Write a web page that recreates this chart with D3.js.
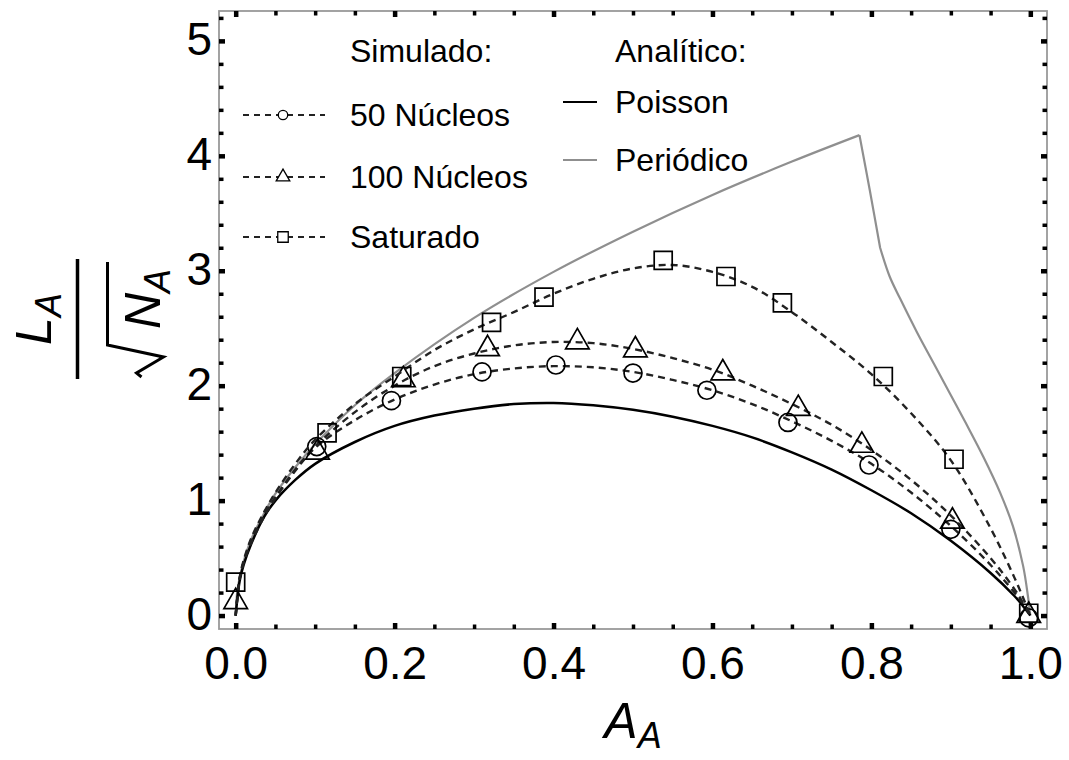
<!DOCTYPE html>
<html>
<head>
<meta charset="utf-8">
<script src="https://cdn.jsdelivr.net/npm/d3@7"></script>
<style>
  body { margin: 0; background: #fff; }
  text { font-family: "Liberation Sans", Arial, sans-serif; fill: #000; }
</style>
</head>
<body>
<script>
let size = {width: 1069, height: 760};
let frame = {left: 219, right: 1047, top: 11, bottom: 629};

// simulated points
let circX = [0.102, 0.196, 0.31, 0.403, 0.50, 0.593, 0.695, 0.797, 0.90, 0.998];
let circY = [1.47, 1.87, 2.12, 2.18, 2.11, 1.96, 1.68, 1.31, 0.75, -0.02];
let triX = [0.0, 0.103, 0.211, 0.317, 0.43, 0.503, 0.613, 0.708, 0.788, 0.902, 0.998];
let triY = [0.12, 1.42, 2.05, 2.32, 2.38, 2.31, 2.11, 1.80, 1.48, 0.82, 0.0];
let sqX = [0.0, 0.115, 0.209, 0.322, 0.388, 0.538, 0.617, 0.688, 0.815, 0.904, 0.998];
let sqY = [0.29, 1.59, 2.08, 2.55, 2.77, 3.09, 2.95, 2.72, 2.08, 1.36, 0.02];

// dashed fit curves and Poisson curve, sampled at fitX
let fitX = [0, 0.005, 0.01, 0.02, 0.035, 0.05, 0.075, 0.1, 0.15, 0.2, 0.25, 0.3, 0.35, 0.4,
    0.45, 0.5, 0.55, 0.6, 0.65, 0.7, 0.75, 0.8, 0.85, 0.9, 0.95, 0.98, 0.99, 1.0];
let fit50 = [0, 0.32, 0.46, 0.64, 0.85, 1.02, 1.26, 1.46, 1.70, 1.88, 2.01, 2.10, 2.15, 2.17,
    2.16, 2.12, 2.05, 1.96, 1.84, 1.69, 1.52, 1.32, 1.07, 0.78, 0.44, 0.20, 0.11, 0];
let fit100 = [0, 0.32, 0.46, 0.65, 0.86, 1.03, 1.27, 1.47, 1.77, 2.00, 2.17, 2.28, 2.35, 2.38,
    2.37, 2.32, 2.24, 2.14, 2.00, 1.84, 1.66, 1.44, 1.18, 0.87, 0.50, 0.23, 0.12, 0];
let fitSat = [0, 0.33, 0.48, 0.68, 0.89, 1.07, 1.32, 1.53, 1.84, 2.08, 2.31, 2.49, 2.64, 2.80,
    2.93, 3.02, 3.05, 2.99, 2.86, 2.64, 2.38, 2.10, 1.76, 1.35, 0.76, 0.33, 0.17, 0];
let poisson = [0, 0.30, 0.44, 0.63, 0.85, 1.00, 1.18, 1.32, 1.51, 1.65, 1.74, 1.80, 1.84, 1.85,
    1.83, 1.79, 1.73, 1.65, 1.55, 1.42, 1.27, 1.09, 0.89, 0.65, 0.37, 0.17, 0.09, 0];

// periodic curve: rising branch, steep drop, tail
let perX = [0, 0.002, 0.005, 0.01, 0.02, 0.035, 0.05, 0.075, 0.1, 0.15, 0.2, 0.3, 0.4, 0.5, 0.6, 0.7,
    0.785, 0.798, 0.811, 0.823, 0.836, 0.857, 0.878, 0.899, 0.92, 0.941, 0.962, 0.978, 0.991, 0.997, 1.0];
let perY = [0, 0.21, 0.33, 0.47, 0.67, 0.88, 1.06, 1.29, 1.49, 1.83, 2.11, 2.59, 2.99, 3.34, 3.66, 3.95,
    4.18, 3.70, 3.20, 2.95, 2.76, 2.47, 2.20, 1.93, 1.66, 1.38, 1.07, 0.78, 0.43, 0.17, 0];
let perBreaks = [16, 18];

let xMajor = [0, 0.2, 0.4, 0.6, 0.8, 1.0];
let yMajor = [0, 1, 2, 3, 4, 5];
let xMinor = d3.range(0.05, 1.0, 0.05).filter(v => Math.abs(v * 5 - Math.round(v * 5)) > 1e-6);
let yMinor = d3.range(0.2, 5.3, 0.2).filter(v => Math.abs(v - Math.round(v)) > 1e-6);

let svg = d3.select("body").append("svg")
    .attr("width", size.width)
    .attr("height", size.height);

let x = d3.scaleLinear().domain([-0.021, 1.021]).range([frame.left, frame.right]);
let y = d3.scaleLinear().domain([-0.117, 5.26]).range([frame.bottom, frame.top]);

let line = d3.line()
    .x(d => x(d[0]))
    .y(d => y(d[1]))
    .curve(d3.curveCatmullRom.alpha(0.5));

// frame
svg.append("rect")
    .attr("x", frame.left)
    .attr("y", frame.top)
    .attr("width", frame.right - frame.left)
    .attr("height", frame.bottom - frame.top)
    .attr("fill", "none")
    .attr("stroke", "#999")
    .attr("stroke-width", 1.8);

// ticks on all four sides, pointing inward
function ticks(axis, transform, len, width) {
    let g = svg.append("g")
        .attr("transform", transform)
        .call(axis.tickSize(-len));
    g.select(".domain").remove();
    g.selectAll(".tick line").attr("stroke", "#000").attr("stroke-width", width);
    return g;
}

let bottom = ticks(d3.axisBottom(x).tickValues(xMajor).tickFormat(d3.format(".1f")),
    `translate(0,${frame.bottom})`, 6, 4.5);
bottom.selectAll("text")
    .attr("y", 50)
    .attr("dy", null)
    .attr("font-size", 46)
    .attr("font-family", "Liberation Sans, Arial, sans-serif");
ticks(d3.axisBottom(x).tickValues(xMinor).tickFormat(""), `translate(0,${frame.bottom})`, 4.5, 3.5);
ticks(d3.axisTop(x).tickValues(xMajor).tickFormat(""), `translate(0,${frame.top})`, 6, 4.5);
ticks(d3.axisTop(x).tickValues(xMinor).tickFormat(""), `translate(0,${frame.top})`, 4.5, 3.5);

let left = ticks(d3.axisLeft(y).tickValues(yMajor).tickFormat(d3.format("d")),
    `translate(${frame.left},0)`, 6, 4.5);
left.selectAll("text")
    .attr("x", -7)
    .attr("dy", "0.3em")
    .attr("font-size", 46)
    .attr("font-family", "Liberation Sans, Arial, sans-serif");
ticks(d3.axisLeft(y).tickValues(yMinor).tickFormat(""), `translate(${frame.left},0)`, 4.5, 3.5);
ticks(d3.axisRight(y).tickValues(yMajor).tickFormat(""), `translate(${frame.right},0)`, 6, 4.5);
ticks(d3.axisRight(y).tickValues(yMinor).tickFormat(""), `translate(${frame.right},0)`, 4.5, 3.5);

// analytic curves
let perPts = perX.map((v, i) => [v, perY[i]]);
let perPath = [perPts.slice(0, perBreaks[0] + 1),
    perPts.slice(perBreaks[0], perBreaks[1] + 1),
    perPts.slice(perBreaks[1])].map(p => line(p)).join("");

let plot = svg.append("g");

plot.append("path")
    .attr("d", perPath)
    .attr("fill", "none")
    .attr("stroke", "#8f8f8f")
    .attr("stroke-width", 2.2);

plot.append("path")
    .attr("d", line(fitX.map((v, i) => [v, poisson[i]])))
    .attr("fill", "none")
    .attr("stroke", "#000")
    .attr("stroke-width", 2.5);

// simulated series
let series = [
    {name: "50 Núcleos", fit: fit50, xs: circX, ys: circY, type: d3.symbolCircle, size: 254, lsize: 70},
    {name: "100 Núcleos", fit: fit100, xs: triX, ys: triY, type: d3.symbolTriangle, size: 240, lsize: 80},
    {name: "Saturado", fit: fitSat, xs: sqX, ys: sqY, type: d3.symbolSquare, size: 324, lsize: 110}
];

series.forEach(s => {
    plot.append("path")
        .attr("d", line(fitX.map((v, i) => [v, s.fit[i]])))
        .attr("fill", "none")
        .attr("stroke", "#222")
        .attr("stroke-width", 2.4)
        .attr("stroke-dasharray", "7,5");

    plot.append("g")
        .selectAll("path")
        .data(s.xs.map((v, i) => [v, s.ys[i]]))
        .join("path")
        .attr("transform", d => `translate(${x(d[0])},${y(d[1])})`)
        .attr("d", d3.symbol().type(s.type).size(s.size))
        .attr("fill", "none")
        .attr("stroke", "#000")
        .attr("stroke-width", 1.7);
});

// legend
let legend = svg.append("g").attr("font-size", 32);

legend.append("text").attr("x", 350).attr("y", 62).text("Simulado:");
legend.append("text").attr("x", 615).attr("y", 62).text("Analítico:");

let legendRows = [126, 188, 248];
series.forEach((s, i) => {
    let ly = legendRows[i] - 11;
    legend.append("line")
        .attr("x1", 243).attr("x2", 325)
        .attr("y1", ly).attr("y2", ly)
        .attr("stroke", "#222")
        .attr("stroke-width", 2)
        .attr("stroke-dasharray", "6,5");
    legend.append("path")
        .attr("transform", `translate(283,${ly})`)
        .attr("d", d3.symbol().type(s.type).size(s.lsize))
        .attr("fill", "#fff")
        .attr("stroke", "#000")
        .attr("stroke-width", 1.3);
    legend.append("text").attr("x", 350).attr("y", legendRows[i]).text(s.name);
});

let analytic = [{name: "Poisson", color: "#000", y: 113}, {name: "Periódico", color: "#8f8f8f", y: 171}];
analytic.forEach(a => {
    legend.append("line")
        .attr("x1", 563).attr("x2", 597)
        .attr("y1", a.y - 11).attr("y2", a.y - 11)
        .attr("stroke", a.color)
        .attr("stroke-width", 2.2);
    legend.append("text").attr("x", 615).attr("y", a.y).text(a.name);
});

// axis labels
let xl = svg.append("text")
    .attr("x", (frame.left + frame.right) / 2)
    .attr("y", 738)
    .attr("text-anchor", "middle")
    .attr("font-size", 50)
    .attr("font-style", "italic");
xl.append("tspan").text("A");
xl.append("tspan").attr("font-size", 36).attr("dy", 10).text("A");

let yl = svg.append("g").attr("transform", "translate(77.5,319) rotate(-90)");
yl.append("line")
    .attr("x1", -60).attr("x2", 60)
    .attr("stroke", "#000")
    .attr("stroke-width", 3.5);
let num = yl.append("text")
    .attr("y", -27)
    .attr("text-anchor", "middle")
    .attr("font-size", 50)
    .attr("font-style", "italic");
num.append("tspan").text("L");
num.append("tspan").attr("font-size", 36).attr("dy", 10).text("A");

yl.append("path")
    .attr("d", "M-58,64 L-54,59 L-38,86 L-26,30 L57,30")
    .attr("fill", "none")
    .attr("stroke", "#000")
    .attr("stroke-width", 3)
    .attr("stroke-linejoin", "miter");
let den = yl.append("text")
    .attr("x", -10)
    .attr("y", 82)
    .attr("font-size", 50)
    .attr("font-style", "italic");
den.append("tspan").text("N");
den.append("tspan").attr("font-size", 36).attr("dy", 10).text("A");
</script>
</body>
</html>
